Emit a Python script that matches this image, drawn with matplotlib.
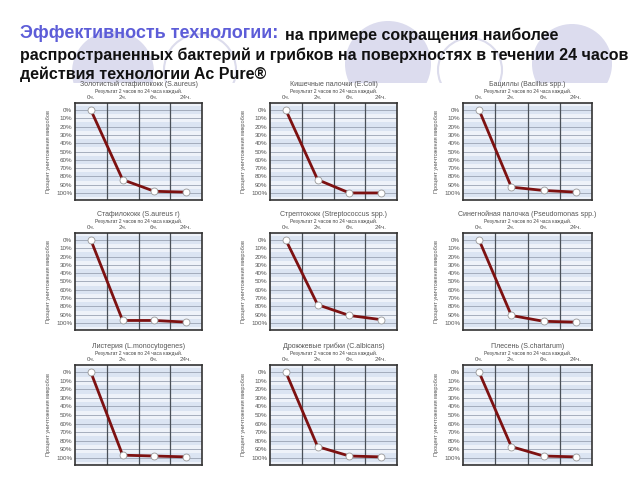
import numpy as np
import matplotlib
matplotlib.use('Agg')
import matplotlib.pyplot as plt
from matplotlib.patches import Circle, Rectangle

plt.rcParams['font.family'] = ['Liberation Sans', 'DejaVu Sans']

# Данные
hours = ['0ч.', '2ч.', '6ч.', '24ч.']
ticks_pct = [0, 10, 20, 30, 40, 50, 60, 70, 80, 90, 100]

titles = ['Золотистый стафилококк (S.aureus)',
          'Кишечные палочки (E.Coli)',
          'Бациллы (Bacillus spp.)',
          'Стафилококк (S.aureus r)',
          'Стрептококк (Streptococcus spp.)',
          'Синегнойная палочка (Pseudomonas spp.)',
          'Листерия (L.monocytogenes)',
          'Дрожжевые грибки (C.albicans)',
          'Плесень (S.chartarum)']

s_aureus = [0, 84, 98, 99]
e_coli = [0, 84, 100, 100]
bacillus = [0, 93, 97, 99]
s_aureus_r = [0, 97, 97, 99]
strepto = [0, 78, 91, 96]
pseudo = [0, 91, 98, 99]
listeria = [0, 97, 98, 99]
candida = [0, 87, 98, 99]
plesen = [0, 87, 98, 99]
series = [s_aureus, e_coli, bacillus, s_aureus_r, strepto, pseudo,
          listeria, candida, plesen]

subtitle = 'Результат 2 часов по 24 часа каждый.'
ylabel = 'Процент уничтожения микробов'

W, H = 640, 480
fig = plt.figure(figsize=(6.4, 4.8), dpi=100)

# фон с кружками
bg = fig.add_axes([0, 0, 1, 1])
bg.set_xlim(0, W)
bg.set_ylim(H, 0)
bg.axis('off')
for cx, cy, r, filled in [(113, 72, 41, True), (200, 70, 36, False),
                          (388, 64, 43, True), (470, 70, 32, False),
                          (572, 64, 40, True)]:
    if filled:
        bg.add_patch(Circle((cx, cy), r, fc='#dcdcee', ec='none', zorder=1))
    else:
        bg.add_patch(Circle((cx, cy), r, fc='none', ec='#dcdcec', lw=1.5, zorder=1))
bg.add_patch(Rectangle((0, 83), W, H, fc='white', ec='none', zorder=2))

# заголовок
fig.text(20 / W, 1 - 33 / H, 'Эффективность технологии:', color='#5d5dd8',
         fontsize=13, fontweight='bold', va='center', ha='left')
fig.text(285 / W, 1 - 35 / H, 'на примере сокращения наиболее', color='#111111',
         fontsize=11.5, fontweight='bold', va='center', ha='left')
fig.text(20 / W, 1 - 55 / H,
         'распространенных бактерий и грибков на поверхностях в течении 24 часов',
         color='#111111', fontsize=11.5, fontweight='bold', va='center', ha='left')
fig.text(20 / W, 1 - 74 / H, 'действия технологии Ac Pure®', color='#111111',
         fontsize=11.5, fontweight='bold', va='center', ha='left')

cols = [(75, 202), (270, 397), (463, 592)]
rows = [(103, 200), (233, 330), (365, 465)]

x = np.arange(len(hours)) + 0.5
for i, vals in enumerate(series):
    l, r = cols[i % 3]
    t, b = rows[i // 3]
    ax = fig.add_axes([l / W, 1 - b / H, (r - l) / W, (b - t) / H])
    ax.set_xlim(0, 4)
    ax.set_ylim(108.5, -8.5)
    ax.set_facecolor('#eef2f9')
    for k, yv in enumerate(range(-5, 106, 10)):
        if k % 2 == 0:
            ax.axhspan(yv, yv + 10, color='#dbe4f2', lw=0, zorder=0)
    for yv in ticks_pct:
        ax.axhline(yv, color='#9aa3b3', lw=0.6, zorder=1)
    for xv in [1, 2, 3]:
        ax.axvline(xv, color='#4a5058', lw=0.9, zorder=1)
    ax.plot(x, vals, color='#7d1111', lw=2, zorder=3,
            marker='o', ms=5, mfc='white', mec='#999999', mew=0.6)
    ax.set_yticks(ticks_pct)
    ax.set_yticklabels([f'{v}%' for v in ticks_pct], fontsize=4.5, color='#555555')
    ax.set_xticks(x)
    ax.set_xticklabels(hours, fontsize=4.5, color='#555555')
    ax.xaxis.tick_top()
    ax.tick_params(length=0, pad=2)
    for sp in ax.spines.values():
        sp.set_color('#333333')
        sp.set_linewidth(1.2)
    ax.set_ylabel(ylabel, fontsize=4, color='#555555', labelpad=4)
    ax.text(0.5, 1 + 12 / (b - t), subtitle, transform=ax.transAxes,
            ha='center', va='center', fontsize=3.5, color='#444444')
    ax.text(0.5, 1 + 19 / (b - t), titles[i], transform=ax.transAxes,
            ha='center', va='center', fontsize=5, color='#555555')

fig.savefig('out.png', dpi=100)
